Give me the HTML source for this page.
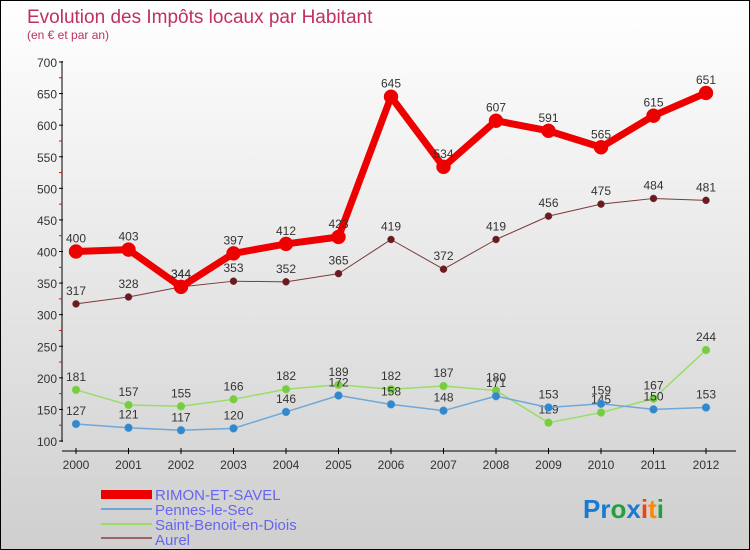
<!DOCTYPE html>
<html><head><meta charset="utf-8"><style>
body{margin:0}
#c{width:748px;height:548px;border:1px solid #000;background:linear-gradient(#ffffff,#cfcfcf);position:relative;font-family:"Liberation Sans",sans-serif;overflow:hidden}
</style></head><body>
<div id="c">
<svg id="s" width="748" height="548" style="position:absolute;left:0;top:0">
<text x="26" y="22" font-size="19" fill="#c03060">Evolution des Impôts locaux par Habitant</text>
<text x="26" y="38" font-size="12" fill="#c03060">(en € et par an)</text>
<g id="axes"></g><g id="series"></g>
<g>
<rect x="100" y="489" width="51" height="9" fill="#ee0000"/>
<text x="154" y="499" font-size="15" fill="#6666ee">RIMON-ET-SAVEL</text>
<rect x="100" y="507" width="51" height="2" fill="#6fa8d8"/>
<text x="154" y="514" font-size="15" fill="#6666ee">Pennes-le-Sec</text>
<rect x="100" y="522" width="51" height="2" fill="#99dd66"/>
<text x="154" y="529" font-size="15" fill="#6666ee">Saint-Benoit-en-Diois</text>
<rect x="100" y="536" width="51" height="2" fill="#996666"/>
<text x="154" y="544" font-size="15" fill="#6666ee">Aurel</text>
</g>
<text x="582" y="517" font-size="26" font-weight="bold"><tspan fill="#1a7ad0">Pr</tspan><tspan fill="#22a040">o</tspan><tspan fill="#1a7ad0">x</tspan><tspan fill="#ee4411">i</tspan><tspan fill="#ff8800">t</tspan><tspan fill="#22a040">i</tspan></text>
</svg>
</div>
<script>
const years=[2000,2001,2002,2003,2004,2005,2006,2007,2008,2009,2010,2011,2012];
const yTicks=[100,150,200,250,300,350,400,450,500,550,600,650,700];
const rimon=[400,403,344,397,412,423,645,534,607,591,565,615,651];
const pennes=[127,121,117,120,146,172,158,148,171,153,159,150,153];
const saintBenoit=[181,157,155,166,182,189,182,187,180,129,145,167,244];
const aurel=[317,328,344,353,352,365,419,372,419,456,475,484,481];
const NS="http://www.w3.org/2000/svg";
const xs=i=>75+i*52.5;
const ys=v=>440-(v-100)*379/600;
function mk(t,a,p){const e=document.createElementNS(NS,t);for(const k in a)e.setAttribute(k,a[k]);p.appendChild(e);return e;}
const ax=document.getElementById('axes');
let l=mk('line',{x1:61,y1:60,x2:61,y2:441,stroke:'#000','stroke-width':1},ax);


l=mk('line',{x1:61,y1:450,x2:735,y2:450,stroke:'#000','stroke-width':1},ax);


yTicks.forEach((v,i)=>{
 mk('line',{x1:58,x2:62,y1:ys(v),y2:ys(v),stroke:'#000'},ax);
 if(i<yTicks.length-1) mk('line',{x1:58,x2:61,y1:ys(v+25),y2:ys(v+25),stroke:'#f00'},ax);
 const t=mk('text',{x:56,y:ys(v)+5,'text-anchor':'end','font-size':12,fill:'#333'},ax);
 t.textContent=v;
 
 
});
years.forEach((y,i)=>{
 mk('line',{x1:xs(i),x2:xs(i),y1:447,y2:453,stroke:'#000'},ax);
 const t=mk('text',{x:xs(i),y:468,'text-anchor':'middle','font-size':12,fill:'#333'},ax);
 t.textContent=y;
 
 
});
const sg=document.getElementById('series');
function draw(vals,color,w,r,dot,name){
 const g=mk('g',{},sg);
 
 
 const p=mk('polyline',{points:vals.map((v,i)=>xs(i)+','+ys(v)).join(' '),fill:'none',stroke:color,'stroke-width':w,'stroke-linejoin':'round'},g);
 
 
 vals.forEach((v,i)=>{
  const c=mk('circle',{cx:xs(i),cy:ys(v),r:r,fill:dot,stroke:color,'stroke-width':0.5},g);
  
  
  const t=mk('text',{x:xs(i),y:ys(v)-9,'text-anchor':'middle','font-size':12,fill:'#333'},g);
  t.textContent=v;
  
  
 });
}
draw(aurel,'#7a3a3a',1,3.5,'#6a1a20','aurel');
draw(saintBenoit,'#99dd66',1.5,4,'#77cc44','saint-benoit');
draw(pennes,'#6fa8d8',1.5,4,'#3388cc','pennes');
draw(rimon,'#ee0000',7,7,'#ee0000','rimon');
</script>
</body></html>
